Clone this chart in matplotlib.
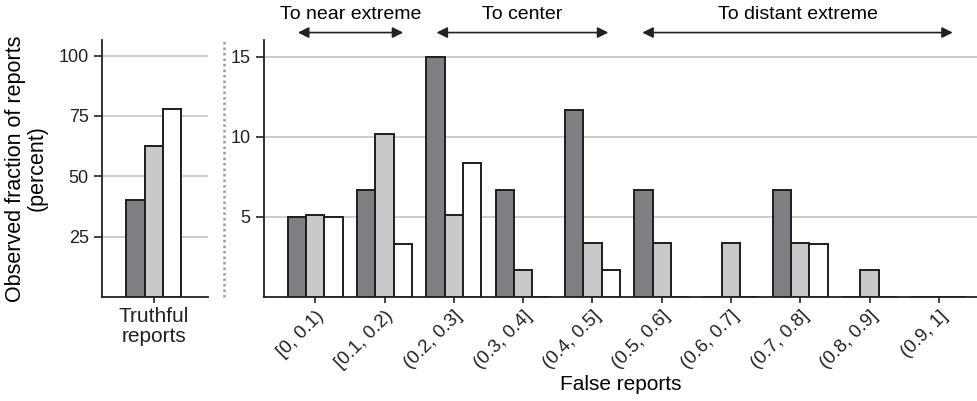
import numpy as np
import matplotlib
matplotlib.use("Agg")
import matplotlib.pyplot as plt
from matplotlib.lines import Line2D

plt.rcParams['font.family'] = ['Liberation Sans', 'DejaVu Sans']

# Values (percent of reports) for the three treatment groups
truthful = [40, 62.5, 78]

bins = ['[0, 0.1)', '[0.1, 0.2)', '(0.2, 0.3]', '(0.3, 0.4]', '(0.4, 0.5]',
        '(0.5, 0.6]', '(0.6, 0.7]', '(0.7, 0.8]', '(0.8, 0.9]', '(0.9, 1]']
dark = [5.0, 6.67, 15.0, 6.67, 11.67, 6.67, 0, 6.67, 0, 0]
light = [5.1, 10.17, 5.1, 1.7, 3.39, 3.39, 3.39, 3.39, 1.7, 0]
white = [5.0, 3.33, 8.33, 0, 1.67, 0, 0, 3.33, 0, 0]

colors = ['#7e7f83', '#c8c9cb', '#ffffff']
edge = '#1e1e1e'
grid_c = '#c9c9c9'
w = 0.265

fig = plt.figure(figsize=(9.77, 4.01), dpi=100)
ax1 = fig.add_axes([0.1044, 0.2594, 0.1085, 0.641])
ax2 = fig.add_axes([0.2702, 0.2594, 0.7298, 0.641])

# left panel: truthful reports
for i, v in enumerate(truthful):
    ax1.bar((i - 1) * w, v, w, color=colors[i], edgecolor=edge, linewidth=1.4, zorder=3)
ax1.set_xlim(-0.75, 0.79)
ax1.set_ylim(0, 106.5)
ax1.set_yticks([25, 50, 75, 100])
ax1.set_xticks([0])
ax1.set_xticklabels(['Truthful\nreports'], fontsize=15, linespacing=1.05)
ax1.set_ylabel('Observed fraction of reports\n(percent)', fontsize=15.5, linespacing=1.0, labelpad=8)
ax1.yaxis.grid(True, color=grid_c, linewidth=1.3, zorder=0)

# right panel: false reports by interval
x = np.arange(len(bins))
for k, vals in enumerate([dark, light, white]):
    ax2.bar(x + (k - 1) * w, vals, w, color=colors[k], edgecolor=edge, linewidth=1.4, zorder=3)
ax2.set_xlim(-0.74, 9.55)
ax2.set_ylim(0, 16.04)
ax2.set_yticks([5, 10, 15])
ax2.set_xticks(x)
ax2.set_xticklabels(bins, rotation=45, ha='right', va='top', rotation_mode='anchor', fontsize=13.5)
ax2.set_xlabel('False reports', fontsize=15, labelpad=2)
ax2.yaxis.grid(True, color=grid_c, linewidth=1.3, zorder=0)

for ax in (ax1, ax2):
    for s in ('top', 'right'):
        ax.spines[s].set_visible(False)
    for s in ('left', 'bottom'):
        ax.spines[s].set_linewidth(1.3)
        ax.spines[s].set_color('#222222')
    ax.tick_params(axis='y', length=6, width=1.2, labelsize=13, colors='#222222')
    ax.tick_params(axis='x', length=4, width=1.2, colors='#222222')
    ax.set_axisbelow(True)

# direction arrows above the intervals
spans = [('To near extreme', -0.25, 1.27), ('To center', 1.75, 4.23),
         ('To distant extreme', 4.72, 9.2)]
for label, x0, x1 in spans:
    ax2.annotate('', xy=(x0, 16.5), xytext=(x1, 16.5), annotation_clip=False,
                 arrowprops=dict(arrowstyle='<|-|>', color='#222222', lw=1.2,
                                 mutation_scale=16, shrinkA=0, shrinkB=0))
    ax2.text((x0 + x1) / 2, 17.6, label, ha='center', va='center', fontsize=14,
             clip_on=False)

# dotted separator between the panels
fig.add_artist(Line2D([0.2293, 0.2293], [0.2594, 0.9], transform=fig.transFigure,
                      color='#9a9a9a', linestyle=(0, (1, 1.2)), linewidth=1.8))

fig.savefig('out.png', dpi=100)
